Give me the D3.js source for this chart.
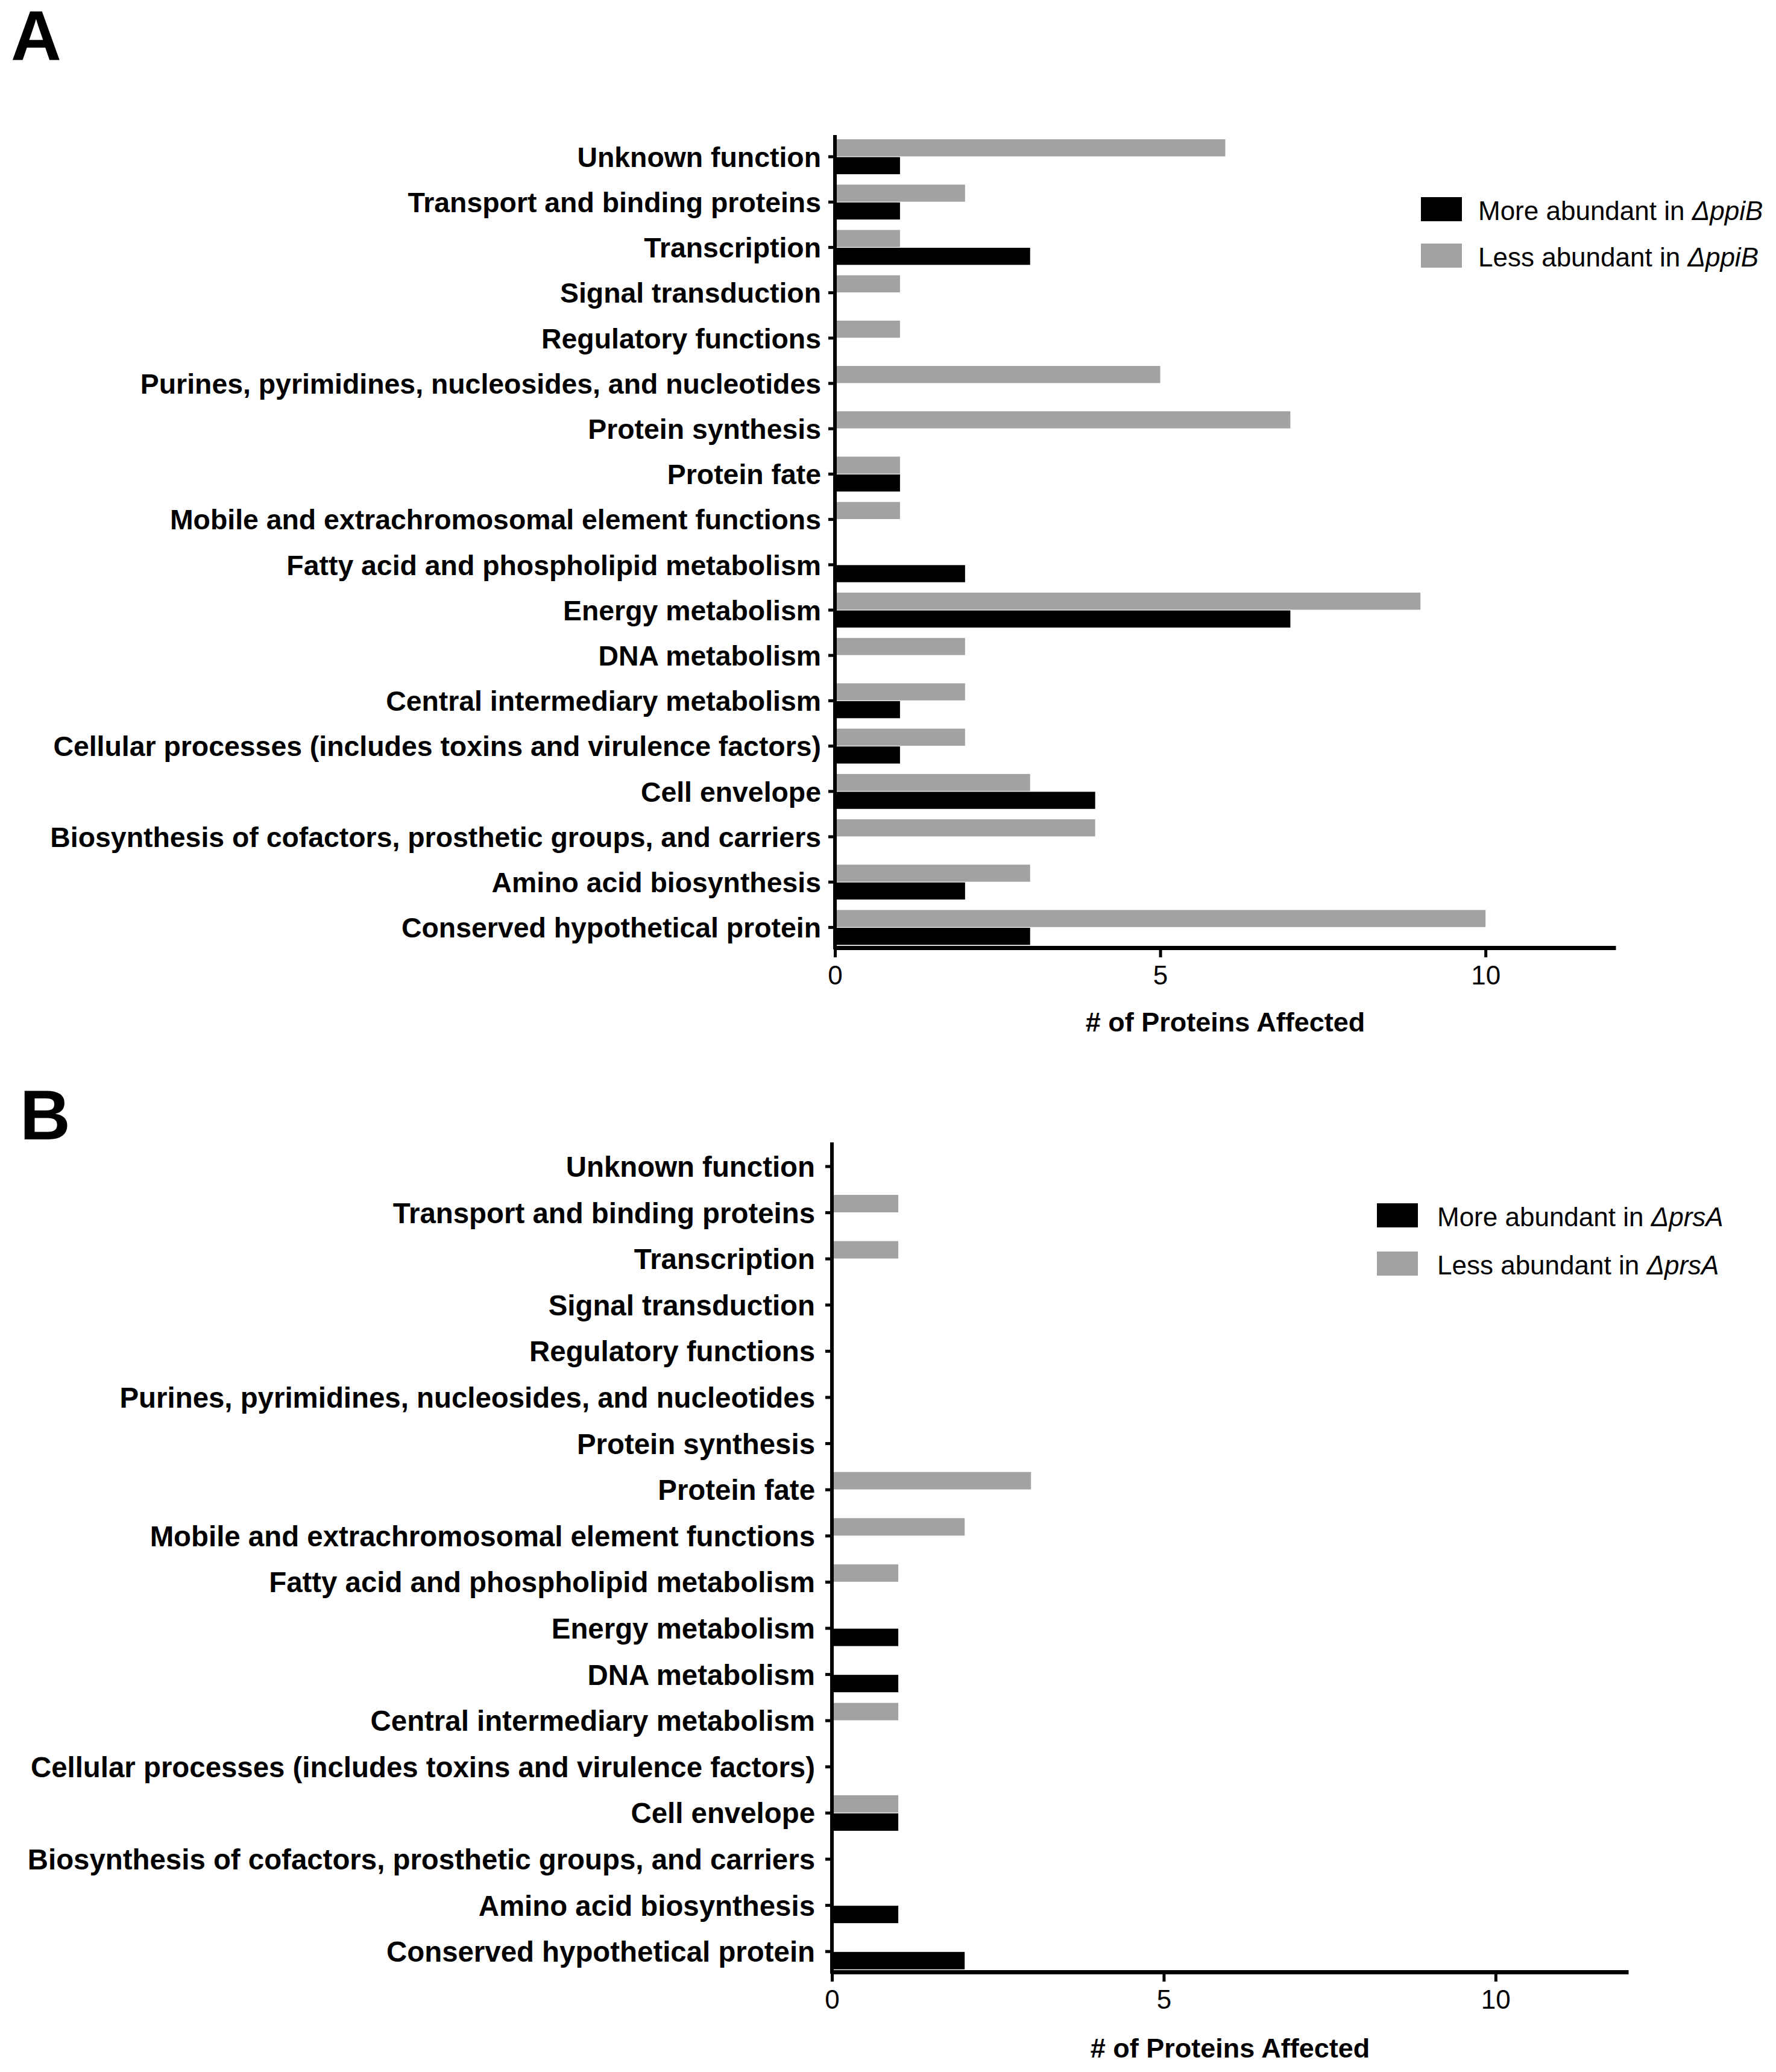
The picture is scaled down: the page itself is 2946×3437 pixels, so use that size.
<!DOCTYPE html>
<html>
<head>
<meta charset="utf-8">
<script src="https://cdn.jsdelivr.net/npm/d3@7"></script>
<style>
  body { margin: 0; background: #fff; }
  svg { display: block; }
  text { font-family: "Liberation Sans", Arial, Helvetica, sans-serif; fill: #000; }
</style>
</head>
<body>
<svg id="chart" width="2946" height="3437"></svg>
<script>
// functional categories, top to bottom
var categories = [
    "Unknown function",
    "Transport and binding proteins",
    "Transcription",
    "Signal transduction",
    "Regulatory functions",
    "Purines, pyrimidines, nucleosides, and nucleotides",
    "Protein synthesis",
    "Protein fate",
    "Mobile and extrachromosomal element functions",
    "Fatty acid and phospholipid metabolism",
    "Energy metabolism",
    "DNA metabolism",
    "Central intermediary metabolism",
    "Cellular processes (includes toxins and virulence factors)",
    "Cell envelope",
    "Biosynthesis of cofactors, prosthetic groups, and carriers",
    "Amino acid biosynthesis",
    "Conserved hypothetical protein"
];

// panel A : ppiB
var moreA = [1, 1, 3, 0, 0, 0, 0, 1, 0, 2, 7, 0, 1, 1, 4, 0, 2, 3];
var lessA = [6, 2, 1, 1, 1, 5, 7, 1, 1, 0, 9, 2, 2, 2, 3, 4, 3, 10];

// panel B : prsA
var moreB = [0, 0, 0, 0, 0, 0, 0, 0, 0, 0, 1, 1, 0, 0, 1, 0, 1, 2];
var lessB = [0, 1, 1, 0, 0, 0, 0, 3, 2, 1, 0, 0, 1, 0, 1, 0, 0, 0];

var xTicks = [0, 5, 10];
var xMax = 12;
var seriesKeys = ["less", "more"];
var seriesNames = { more: "More abundant in ", less: "Less abundant in " };
var xTitle = "# of Proteins Affected";

var colors = { more: "#000000", less: "#a2a2a5" };

var svg = d3.select("#chart");

function drawPanel(cfg)
{
    var g = svg.append("g");

    var rows = categories.map(function (c, i)
    {
        return { category: c, more: cfg.more[i], less: cfg.less[i] };
    });

    var x = d3.scaleLinear().domain([0, xMax]).range([cfg.left, cfg.right]);

    var y = d3.scaleBand()
        .domain(categories)
        .range([cfg.firstCenter - cfg.band / 2, cfg.firstCenter + cfg.band * (categories.length - 0.5)]);

    var half = cfg.band * 0.385;
    var ySub = d3.scaleBand().domain(seriesKeys).range([-half, half]).paddingInner(0.04);

    // bars
    seriesKeys.forEach(function (key)
    {
        g.append("g")
            .selectAll("rect")
            .data(rows.filter(function (d) { return d[key] > 0; }))
            .enter().append("rect")
            .attr("x", x(0))
            .attr("y", function (d) { return y(d.category) + y.bandwidth() / 2 + ySub(key); })
            .attr("width", function (d) { return x(d[key]) - x(0); })
            .attr("height", ySub.bandwidth())
            .attr("fill", colors[key]);
    });

    // y axis
    var yAxis = g.append("g")
        .attr("transform", "translate(" + x(0) + ",0)")
        .call(d3.axisLeft(y).tickSize(11).tickSizeOuter(0).tickPadding(cfg.labelPad));
    yAxis.select(".domain")
        .attr("stroke-width", 6)
        .attr("d", "M0," + cfg.axisTop + "V" + (cfg.axisY + 3));
    yAxis.selectAll(".tick line").attr("stroke-width", 5);
    yAxis.selectAll(".tick text")
        .attr("font-size", cfg.labelSize)
        .attr("font-weight", "bold")
        .attr("dy", "0.36em");

    // x axis
    var xAxis = g.append("g")
        .attr("transform", "translate(0," + cfg.axisY + ")")
        .call(d3.axisBottom(x).tickValues(xTicks).tickSize(16).tickSizeOuter(0).tickPadding(14));
    xAxis.select(".domain").attr("stroke-width", 7);
    xAxis.selectAll(".tick line").attr("stroke-width", 5);
    xAxis.selectAll(".tick text")
        .attr("font-size", 44)
        .attr("dy", "0.71em");
    xAxis.selectAll("text").attr("font-family", null);

    g.append("text")
        .attr("x", (cfg.left + cfg.right) / 2)
        .attr("y", cfg.titleY)
        .attr("text-anchor", "middle")
        .attr("font-size", 45)
        .attr("font-weight", "bold")
        .text(xTitle);

    // panel letter
    g.append("text")
        .attr("x", cfg.letterX)
        .attr("y", cfg.letterY)
        .attr("font-size", 116)
        .attr("font-weight", "bold")
        .text(cfg.letter);

    // legend
    var legend = g.append("g")
        .attr("transform", "translate(" + cfg.legendX + "," + cfg.legendY + ")");
    var legendItems = legend.selectAll("g")
        .data(["more", "less"])
        .enter().append("g")
        .attr("transform", function (d, i) { return "translate(0," + i * cfg.legendStep + ")"; });
    legendItems.append("rect")
        .attr("x", 0)
        .attr("y", -38)
        .attr("width", 68)
        .attr("height", 40)
        .attr("fill", function (d) { return colors[d]; });
    var lt = legendItems.append("text")
        .attr("x", cfg.legendTextDx)
        .attr("y", 0)
        .attr("font-size", 44)
        .attr("fill", "#222");
    lt.append("tspan").text(function (d) { return seriesNames[d]; });
    lt.append("tspan").attr("font-style", "italic").text("\u0394" + cfg.mutant);
}

drawPanel({
    letter: "A", letterX: 18, letterY: 100,
    more: moreA, less: lessA, mutant: "ppiB",
    left: 1385, right: 2680,
    firstCenter: 260, band: 75.2,
    axisTop: 224, axisY: 1572,
    labelSize: 46.4, labelPad: 12,
    titleY: 1711,
    legendX: 2357, legendY: 365, legendStep: 77, legendTextDx: 95
});

drawPanel({
    letter: "B", letterX: 33, letterY: 1890,
    more: moreB, less: lessB, mutant: "prsA",
    left: 1380, right: 2701,
    firstCenter: 1935, band: 76.6,
    axisTop: 1895, axisY: 3271,
    labelSize: 47.4, labelPad: 17,
    titleY: 3413,
    legendX: 2284, legendY: 2034, legendStep: 80, legendTextDx: 100
});
</script>
</body>
</html>
